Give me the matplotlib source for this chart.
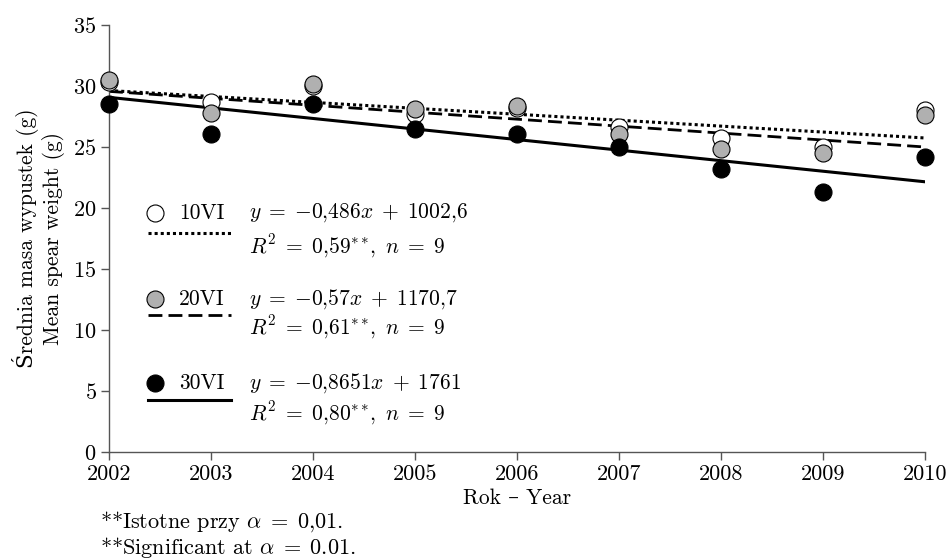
import matplotlib
matplotlib.use("Agg")
import matplotlib.pyplot as plt
import numpy as np

plt.rcParams['font.family'] = ['cmr10', 'DejaVu Serif']
plt.rcParams['mathtext.fontset'] = 'cm'
plt.rcParams['axes.formatter.use_mathtext'] = True
plt.rcParams['axes.unicode_minus'] = False

years = [2002, 2003, 2004, 2005, 2006, 2007, 2008, 2009, 2010]
w10 = [30.3, 28.7, 30.0, 27.7, 28.2, 26.6, 25.7, 25.0, 28.0]
w20 = [30.5, 27.8, 30.2, 28.1, 28.4, 26.1, 24.8, 24.5, 27.6]
w30 = [28.5, 26.1, 28.5, 26.5, 26.1, 25.0, 23.2, 21.3, 24.2]

series_names = ['10VI', '20VI', '30VI']
slopes = [-0.486, -0.57, -0.8651]
intercepts = [1002.6, 1170.7, 1761.0]
eq_labels = [r'$y\;=\;{-}0{,}486x\;+\;1002{,}6$', r'$y\;=\;{-}0{,}57x\;+\;1170{,}7$',
             r'$y\;=\;{-}0{,}8651x\;+\;1761$']
r2_labels = [r'$R^2\;=\;0{,}59^{**}\!,\ n\;=\;9$', r'$R^2\;=\;0{,}61^{**}\!,\ n\;=\;9$',
             r'$R^2\;=\;0{,}80^{**}\!,\ n\;=\;9$']
yticks = [0, 5, 10, 15, 20, 25, 30, 35]

face = ['white', '#b0b0b0', 'black']
styles = [(0, (1, 1)), (0, (5, 2.2)), '-']
lws = [2.2, 2.0, 2.2]
data = [w10, w20, w30]

fig = plt.figure(figsize=(9.46, 5.6), dpi=100)
ax = fig.add_axes([109/946, 1-452/560, (925-109)/946, (452-25)/560])

x = np.array(years, dtype=float)
for i in range(3):
    ax.plot([x[0], x[-1]], [slopes[i]*x[0]+intercepts[i], slopes[i]*x[-1]+intercepts[i]],
            color='black', lw=lws[i], linestyle=styles[i], zorder=2, dash_capstyle='butt')
for i in range(3):
    ax.scatter(years, data[i], s=150, facecolor=face[i], edgecolor='black', linewidth=0.8,
               zorder=3 + i, clip_on=False)

ax.set_xlim(2002, 2010)
ax.set_ylim(0, 35)
ax.set_xticks(years)
ax.set_xticklabels([str(y) for y in years])
ax.set_yticks(yticks)
for s in ['top', 'right']:
    ax.spines[s].set_visible(False)
for s in ['left', 'bottom']:
    ax.spines[s].set_color('#555555')
    ax.spines[s].set_linewidth(1.0)
ax.tick_params(direction='out', length=6, width=1.0, color='#555555', labelsize=16, pad=3)

ax.set_xlabel('Rok – Year', fontsize=15.5, labelpad=3)
ax.set_ylabel('Średnia masa wypustek (g)\nMean spear weight (g)', fontsize=15.5, labelpad=6,
              linespacing=1.15)

# legend / equation block
def px2x(px):
    return 2002 + (px - 109) / 102.0

def py2y(py):
    return (452 - py) / 12.2

mark_y = [213, 299, 383]
line_y = [233, 315, 400]
r2_y = [246, 327, 413]
for i in range(3):
    ax.scatter([px2x(155)], [py2y(mark_y[i])], s=150, facecolor=face[i], edgecolor='black',
               linewidth=0.8, zorder=5)
    ax.text(px2x(179), py2y(mark_y[i]), series_names[i], fontsize=15.5, va='center', ha='left')
    ax.text(px2x(249), py2y(mark_y[i]), eq_labels[i], fontsize=15.5, va='center', ha='left')
    ax.plot([px2x(148), px2x(231)], [py2y(line_y[i])] * 2, color='black', lw=lws[i],
            linestyle=styles[i], dash_capstyle='butt')
    ax.text(px2x(249), py2y(r2_y[i]), r2_labels[i], fontsize=15.5, va='center', ha='left')

fig.text(100/946, 1-522/560, r'**Istotne przy $\alpha\;=\;0{,}01$.', fontsize=16, va='center', ha='left')
fig.text(100/946, 1-547/560, r'**Significant at $\alpha\;=\;0.01$.', fontsize=16, va='center', ha='left')

fig.savefig('out.png', dpi=100)
